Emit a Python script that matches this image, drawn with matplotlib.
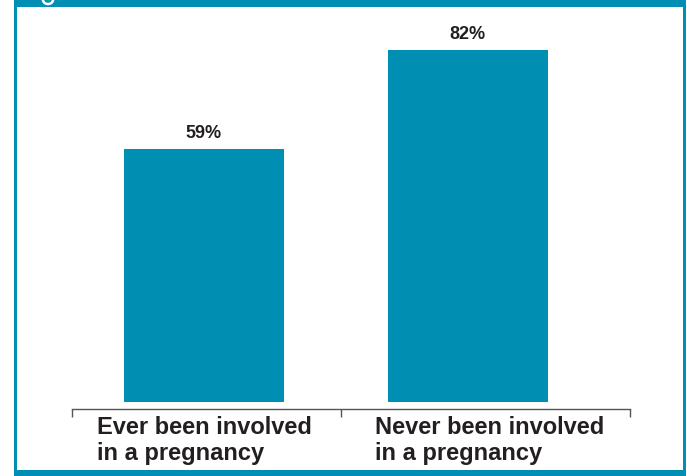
import matplotlib.pyplot as plt
from matplotlib.patches import Rectangle, Ellipse

# data
categories = ['Ever been involved\nin a pregnancy', 'Never been involved\nin a pregnancy']
values = [59, 82]

teal = '#008fb3'
dark = '#231f20'

fig = plt.figure(figsize=(6.87, 4.77), dpi=100)
W, H = 687.0, 477.0

# frame around the chart (pixel coords -> figure fraction)
def px_rect(x0, y0, x1, y1):
    return Rectangle((x0 / W, 1 - y1 / H), (x1 - x0) / W, (y1 - y0) / H,
                     transform=fig.transFigure, color=teal, lw=0, zorder=0)

fig.patches.extend([
    px_rect(14, 0, 686, 8),      # top band
    px_rect(14, 0, 17, 477),     # left
    px_rect(683, 0, 686, 477),   # right
    px_rect(14, 471, 686, 477),  # bottom band
])
# bottom of the cut off title letter
fig.patches.append(Ellipse((48 / W, 1 - 1 / H), 10 / W, 8 / H, transform=fig.transFigure,
                           facecolor='none', edgecolor='white', lw=1.8, zorder=1))

# axes placed so that axis line sits at y=410, spanning x 72..630
ax = fig.add_axes([72 / W, 1 - 410 / H, (630 - 72) / W, (410 - 20) / H])
x = [0, 1]
ax.bar(x, values, width=0.606, color=teal, zorder=2)
ax.set_xlim(-0.5, 1.614)
ax.set_ylim(-1.6, 89.3)

for xi, v in zip(x, values):
    ax.text(xi, v + 1.9, f'{v}%', ha='center', va='bottom', fontsize=13,
            fontweight='bold', color=dark, family='Liberation Sans')

for spine in ['top', 'left', 'right']:
    ax.spines[spine].set_visible(False)
ax.spines['bottom'].set_color('#555555')
ax.spines['bottom'].set_linewidth(1)
ax.set_yticks([])
ax.set_xticks([-0.5, 0.52, 1.614])
ax.set_xticklabels([])
ax.tick_params(axis='x', direction='out', length=6, width=1, color='#555555')

label_x = [-0.405, 0.648]
for lx, lab in zip(label_x, categories):
    ax.text(lx, -3.0, lab, ha='left', va='top', fontsize=17, fontweight='bold',
            color=dark, family='Liberation Sans', linespacing=1.15,
            transform=ax.transData, clip_on=False)

fig.savefig('out.png', dpi=100, facecolor='white')
